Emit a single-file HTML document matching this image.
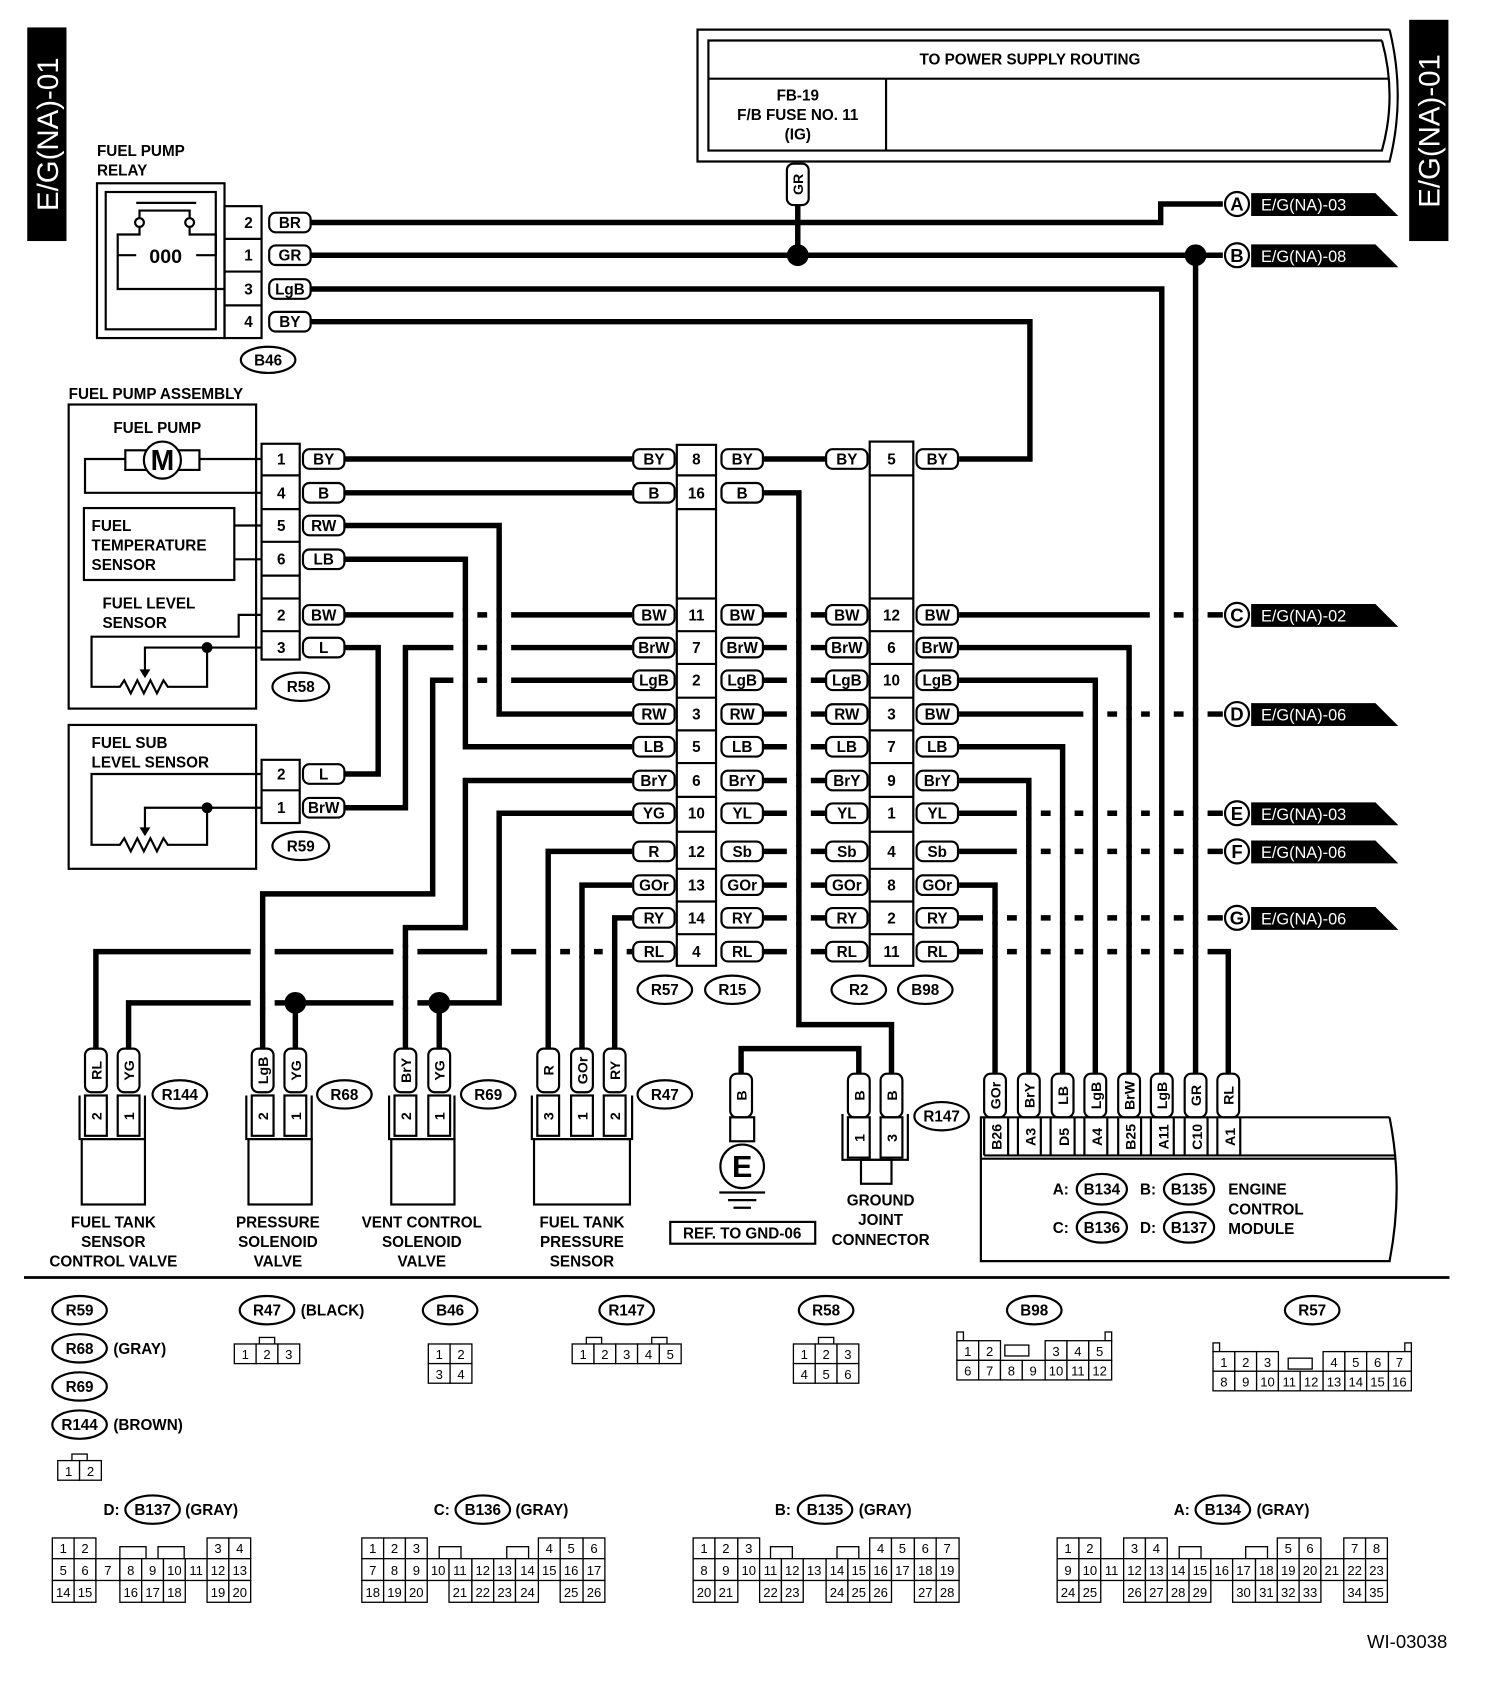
<!DOCTYPE html>
<html><head><meta charset="utf-8"><style>
html,body{margin:0;padding:0;background:#fff;width:1504px;height:1706px;overflow:hidden}
svg{display:block}
text{font-family:"Liberation Sans",sans-serif;font-weight:bold;fill:#000}
.w{stroke:#000;stroke-width:5;fill:none}
.t{stroke:#000;stroke-width:2;fill:none}
.p{stroke:#000;stroke-width:2;fill:#fff}
.c text{font-size:12px;font-weight:normal;text-anchor:middle}
.c rect{stroke:#000;stroke-width:1.2;fill:#fff}
.m{text-anchor:middle}
</style></head><body>
<svg width="1504" height="1706" viewBox="0 0 1380 1565" xmlns="http://www.w3.org/2000/svg">
<defs><g id="x"><rect x="-11" y="-4" width="22" height="8" fill="#fff"/><line x1="0" y1="-6" x2="0" y2="6" stroke="#000" stroke-width="5"/></g></defs>
<!-- side tabs -->
<rect x="25" y="25" width="36" height="196" fill="#000"/>
<text transform="translate(53,123) rotate(-90)" class="m" style="font-size:27px;font-weight:normal;fill:#fff">E/G(NA)-01</text>
<rect x="1293" y="18" width="36" height="203" fill="#000"/>
<text transform="translate(1321,120) rotate(-90)" class="m" style="font-size:27px;font-weight:normal;fill:#fff">E/G(NA)-01</text>

<!-- power supply box -->
<path class="t" d="M1275 27 H640 V148 H1275 Q1290 88 1275 27"/>
<path class="t" d="M1268 37 H650 V138 H1268 Q1282 88 1268 37"/>
<line class="t" x1="650" y1="72" x2="1275" y2="72"/>
<line class="t" x1="813" y1="72" x2="813" y2="138"/>
<text x="945" y="59" class="m" font-size="14">TO POWER SUPPLY ROUTING</text>
<text x="732" y="92" class="m" font-size="14">FB-19</text>
<text x="732" y="110" class="m" font-size="14">F/B FUSE NO. 11</text>
<text x="732" y="128" class="m" font-size="14">(IG)</text>

<!-- wires -->
<g class="w">
<path d="M732 188 V234"/>
<path d="M285 204 H1065 V187 H1122"/>
<path d="M285 234 H1122"/>
<path d="M1097 234 V985"/>
<path d="M285 265 H1066 V985"/>
<path d="M285 295 H945 V421 H880"/>
<path d="M316 421 H580 M700 421 H758"/>
<path d="M316 452 H580 M700 452 H733 V940 H818 V985"/>
<path d="M680 985 V962 H788 V985"/>
<path d="M316 482 H458 V655 H580"/>
<path d="M316 513 H427 V685 H580"/>
<path d="M316 564 H580 M700 564 H758 M880 564 H1122"/>
<path d="M316 594 H347 V710 H316"/>
<path d="M580 594 H372 V741 H316"/>
<path d="M580 624 H397 V820 H241 V962"/>
<path d="M580 716 H427 V851 H372 V962"/>
<path d="M580 746 H458 V920 H118 V962"/>
<path d="M271 920 V962 M403 920 V962"/>
<path d="M580 781 H503 V962"/>
<path d="M580 812 H534 V962"/>
<path d="M580 842 H564 V962"/>
<path d="M580 873 H88 V962"/>
<path d="M700 594 H758 M700 624 H758 M700 655 H758 M700 685 H758 M700 716 H758 M700 746 H758 M700 781 H758 M700 812 H758 M700 842 H758 M700 873 H758"/>
<path d="M880 594 H1036 V985"/>
<path d="M880 624 H1005 V985"/>
<path d="M880 655 H1122"/>
<path d="M880 685 H975 V985"/>
<path d="M880 716 H944 V985"/>
<path d="M880 746 H1122"/>
<path d="M880 781 H1122"/>
<path d="M880 812 H913 V985"/>
<path d="M880 842 H1122"/>
<path d="M880 873 H1127 V985"/>
</g>
<!-- crossings -->
<use href="#x" x="427" y="564"/><use href="#x" x="458" y="564"/><use href="#x" x="427" y="594"/><use href="#x" x="458" y="594"/><use href="#x" x="427" y="624"/><use href="#x" x="458" y="624"/>
<use href="#x" x="241" y="873"/><use href="#x" x="372" y="873"/><use href="#x" x="458" y="873"/><use href="#x" x="503" y="873"/><use href="#x" x="534" y="873"/><use href="#x" x="564" y="873"/>
<use href="#x" x="241" y="920"/><use href="#x" x="372" y="920"/>
<use href="#x" x="733" y="564"/><use href="#x" x="733" y="594"/><use href="#x" x="733" y="624"/><use href="#x" x="733" y="655"/><use href="#x" x="733" y="685"/><use href="#x" x="733" y="716"/><use href="#x" x="733" y="746"/><use href="#x" x="733" y="781"/><use href="#x" x="733" y="812"/><use href="#x" x="733" y="842"/><use href="#x" x="733" y="873"/>
<use href="#x" x="1066" y="564"/><use href="#x" x="1097" y="564"/>
<use href="#x" x="1005" y="655"/><use href="#x" x="1036" y="655"/><use href="#x" x="1066" y="655"/><use href="#x" x="1097" y="655"/>
<use href="#x" x="944" y="746"/><use href="#x" x="975" y="746"/><use href="#x" x="1005" y="746"/><use href="#x" x="1036" y="746"/><use href="#x" x="1066" y="746"/><use href="#x" x="1097" y="746"/>
<use href="#x" x="944" y="781"/><use href="#x" x="975" y="781"/><use href="#x" x="1005" y="781"/><use href="#x" x="1036" y="781"/><use href="#x" x="1066" y="781"/><use href="#x" x="1097" y="781"/>
<use href="#x" x="913" y="842"/><use href="#x" x="944" y="842"/><use href="#x" x="975" y="842"/><use href="#x" x="1005" y="842"/><use href="#x" x="1036" y="842"/><use href="#x" x="1066" y="842"/><use href="#x" x="1097" y="842"/>
<use href="#x" x="913" y="873"/><use href="#x" x="944" y="873"/><use href="#x" x="975" y="873"/><use href="#x" x="1005" y="873"/><use href="#x" x="1036" y="873"/><use href="#x" x="1066" y="873"/><use href="#x" x="1097" y="873"/>

<circle cx="732" cy="234" r="10"/><circle cx="1097" cy="234" r="10"/>
<circle cx="271" cy="920" r="10"/><circle cx="403" cy="920" r="10"/>

<!-- GR vertical pill -->
<rect x="722" y="150" width="20" height="38" rx="6" class="p"/>
<text transform="translate(737,169) rotate(-90)" class="m" font-size="13">GR</text>

<!-- right destination tags -->
<g font-size="15">
<g><circle cx="1135" cy="187" r="11" class="p"/><text x="1135" y="193" class="m" font-size="17">A</text><polygon points="1148,177 1262,177 1283,198 1148,198"/><text x="1157" y="193" style="fill:#fff;font-weight:normal">E/G(NA)-03</text></g>
<g><circle cx="1135" cy="234" r="11" class="p"/><text x="1135" y="240" class="m" font-size="17">B</text><polygon points="1148,224 1262,224 1283,245 1148,245"/><text x="1157" y="240" style="fill:#fff;font-weight:normal">E/G(NA)-08</text></g>
<g><circle cx="1135" cy="564" r="11" class="p"/><text x="1135" y="570" class="m" font-size="17">C</text><polygon points="1148,554 1262,554 1283,575 1148,575"/><text x="1157" y="570" style="fill:#fff;font-weight:normal">E/G(NA)-02</text></g>
<g><circle cx="1135" cy="655" r="11" class="p"/><text x="1135" y="661" class="m" font-size="17">D</text><polygon points="1148,645 1262,645 1283,666 1148,666"/><text x="1157" y="661" style="fill:#fff;font-weight:normal">E/G(NA)-06</text></g>
<g><circle cx="1135" cy="746" r="11" class="p"/><text x="1135" y="752" class="m" font-size="17">E</text><polygon points="1148,736 1262,736 1283,757 1148,757"/><text x="1157" y="752" style="fill:#fff;font-weight:normal">E/G(NA)-03</text></g>
<g><circle cx="1135" cy="781" r="11" class="p"/><text x="1135" y="787" class="m" font-size="17">F</text><polygon points="1148,771 1262,771 1283,792 1148,792"/><text x="1157" y="787" style="fill:#fff;font-weight:normal">E/G(NA)-06</text></g>
<g><circle cx="1135" cy="842" r="11" class="p"/><text x="1135" y="848" class="m" font-size="17">G</text><polygon points="1148,832 1262,832 1283,853 1148,853"/><text x="1157" y="848" style="fill:#fff;font-weight:normal">E/G(NA)-06</text></g>
</g>

<!-- fuel pump relay -->
<text x="89" y="143" font-size="14">FUEL PUMP</text><text x="89" y="161" font-size="14">RELAY</text>
<rect x="89" y="168" width="117" height="142" class="t"/>
<rect x="97" y="176" width="101" height="126" class="t" stroke-width="1.5"/>
<path class="t" d="M125 186 H180 M128 200 V193 H174 V200 M128 208 V215 H108 V265 H206 M174 208 V215 H198 M108 234 H125 M180 234 H198 M198 215 V234"/>
<circle cx="128" cy="204" r="4" class="p"/><circle cx="174" cy="204" r="4" class="p"/>
<text x="152" y="241" class="m" font-size="18" font-weight="normal">000</text>
<rect x="206" y="189" width="34" height="121" class="t"/>
<path class="t" d="M206 219 H240 M206 249 H240 M206 280 H240"/>
<g font-size="14" class="m"><text x="228" y="209">2</text><text x="228" y="239">1</text><text x="228" y="270">3</text><text x="228" y="300">4</text></g>
<g font-size="14">
<rect x="247" y="195" width="38" height="18" rx="6" class="p"/><text x="266" y="209" class="m">BR</text>
<rect x="247" y="225" width="38" height="18" rx="6" class="p"/><text x="266" y="239" class="m">GR</text>
<rect x="247" y="256" width="38" height="18" rx="6" class="p"/><text x="266" y="270" class="m">LgB</text>
<rect x="247" y="286" width="38" height="18" rx="6" class="p"/><text x="266" y="300" class="m">BY</text>
</g>
<ellipse cx="246" cy="330" rx="25" ry="12" class="p"/><text x="246" y="335" class="m" font-size="14">B46</text>

<!-- fuel pump assembly -->
<text x="63" y="366" font-size="14">FUEL PUMP ASSEMBLY</text>
<rect x="63" y="371" width="172" height="279" class="t"/>
<text x="104" y="397" font-size="14">FUEL PUMP</text>
<path class="t" d="M183 421 H240 M115 421 H78 V452 H240"/>
<rect x="115" y="413" width="68" height="18" class="p"/>
<circle cx="149" cy="422" r="17" class="p"/><text x="149" y="431" class="m" font-size="26">M</text>
<rect x="77" y="466" width="138" height="66" class="t"/>
<text x="84" y="487" font-size="14">FUEL</text><text x="84" y="505" font-size="14">TEMPERATURE</text><text x="84" y="523" font-size="14">SENSOR</text>
<path class="t" d="M215 482 H240 M215 513 H240"/>
<text x="94" y="558" font-size="14">FUEL LEVEL</text><text x="94" y="576" font-size="14">SENSOR</text>
<path class="t" d="M240 564 H219 V584 H84 V630 H110 l4 -6 l6 12 l6 -12 l6 12 l6 -12 l6 12 l6 -12 l4 6 H190 V594 H240 M190 594 H133 V620"/>
<path d="M128 614 L133 622 L138 614Z"/>
<circle cx="190" cy="594" r="5"/>
<rect x="240" y="407" width="35" height="198" class="t"/>
<path class="t" d="M240 436 H275 M240 467 H275 M240 497 H275 M240 528 H275 M240 549 H275 M240 579 H275"/>
<g font-size="14" class="m"><text x="258" y="426">1</text><text x="258" y="457">4</text><text x="258" y="487">5</text><text x="258" y="518">6</text><text x="258" y="569">2</text><text x="258" y="599">3</text></g>
<g font-size="14">
<rect x="278" y="412" width="38" height="18" rx="6" class="p"/><text x="297" y="426" class="m">BY</text>
<rect x="278" y="443" width="38" height="18" rx="6" class="p"/><text x="297" y="457" class="m">B</text>
<rect x="278" y="473" width="38" height="18" rx="6" class="p"/><text x="297" y="487" class="m">RW</text>
<rect x="278" y="504" width="38" height="18" rx="6" class="p"/><text x="297" y="518" class="m">LB</text>
<rect x="278" y="555" width="38" height="18" rx="6" class="p"/><text x="297" y="569" class="m">BW</text>
<rect x="278" y="585" width="38" height="18" rx="6" class="p"/><text x="297" y="599" class="m">L</text>
<rect x="278" y="701" width="38" height="18" rx="6" class="p"/><text x="297" y="715" class="m">L</text>
<rect x="278" y="732" width="38" height="18" rx="6" class="p"/><text x="297" y="746" class="m">BrW</text>
</g>
<ellipse cx="276" cy="630" rx="26" ry="13" class="p"/><text x="276" y="635" class="m" font-size="14">R58</text>

<!-- sub level sensor -->
<rect x="63" y="665" width="172" height="132" class="t"/>
<text x="84" y="686" font-size="14">FUEL SUB</text><text x="84" y="704" font-size="14">LEVEL SENSOR</text>
<path class="t" d="M240 710 H84 V775 H110 l4 -6 l6 12 l6 -12 l6 12 l6 -12 l6 12 l6 -12 l4 6 H190 V741 H240 M190 741 H133 V765"/>
<path d="M128 759 L133 767 L138 759Z"/>
<circle cx="190" cy="741" r="5"/>
<rect x="240" y="697" width="35" height="58" class="t"/>
<path class="t" d="M240 725 H275"/>
<g font-size="14" class="m"><text x="258" y="715">2</text><text x="258" y="746">1</text></g>
<ellipse cx="276" cy="776" rx="26" ry="13" class="p"/><text x="276" y="781" class="m" font-size="14">R59</text>

<!-- middle connectors -->
<rect x="621" y="408" width="36" height="478" class="t"/>
<rect x="798" y="405" width="40" height="481" class="t"/>
<path class="t" d="M621 436 H657 M621 467 H657 M621 549 H657 M621 579 H657 M621 609 H657 M621 640 H657 M621 670 H657 M621 700 H657 M621 731 H657 M621 763 H657 M621 797 H657 M621 827 H657 M621 857 H657"/>
<path class="t" d="M798 436 H838 M798 549 H838 M798 579 H838 M798 609 H838 M798 640 H838 M798 670 H838 M798 700 H838 M798 731 H838 M798 763 H838 M798 797 H838 M798 827 H838 M798 857 H838"/>
<g font-size="14" class="m">
<text x="639" y="426">8</text><text x="639" y="457">16</text><text x="639" y="569">11</text><text x="639" y="599">7</text><text x="639" y="629">2</text><text x="639" y="660">3</text><text x="639" y="690">5</text><text x="639" y="721">6</text><text x="639" y="751">10</text><text x="639" y="786">12</text><text x="639" y="817">13</text><text x="639" y="847">14</text><text x="639" y="878">4</text>
<text x="818" y="426">5</text><text x="818" y="569">12</text><text x="818" y="599">6</text><text x="818" y="629">10</text><text x="818" y="660">3</text><text x="818" y="690">7</text><text x="818" y="721">9</text><text x="818" y="751">1</text><text x="818" y="786">4</text><text x="818" y="817">8</text><text x="818" y="847">2</text><text x="818" y="878">11</text>
</g>
<g font-size="14" class="m">
<rect x="581" y="412" width="38" height="18" rx="6" class="p"/><text x="600" y="426">BY</text>
<rect x="581" y="443" width="38" height="18" rx="6" class="p"/><text x="600" y="457">B</text>
<rect x="581" y="555" width="38" height="18" rx="6" class="p"/><text x="600" y="569">BW</text>
<rect x="581" y="585" width="38" height="18" rx="6" class="p"/><text x="600" y="599">BrW</text>
<rect x="581" y="615" width="38" height="18" rx="6" class="p"/><text x="600" y="629">LgB</text>
<rect x="581" y="646" width="38" height="18" rx="6" class="p"/><text x="600" y="660">RW</text>
<rect x="581" y="676" width="38" height="18" rx="6" class="p"/><text x="600" y="690">LB</text>
<rect x="581" y="707" width="38" height="18" rx="6" class="p"/><text x="600" y="721">BrY</text>
<rect x="581" y="737" width="38" height="18" rx="6" class="p"/><text x="600" y="751">YG</text>
<rect x="581" y="772" width="38" height="18" rx="6" class="p"/><text x="600" y="786">R</text>
<rect x="581" y="803" width="38" height="18" rx="6" class="p"/><text x="600" y="817">GOr</text>
<rect x="581" y="833" width="38" height="18" rx="6" class="p"/><text x="600" y="847">RY</text>
<rect x="581" y="864" width="38" height="18" rx="6" class="p"/><text x="600" y="878">RL</text>

<rect x="662" y="412" width="38" height="18" rx="6" class="p"/><text x="681" y="426">BY</text>
<rect x="662" y="443" width="38" height="18" rx="6" class="p"/><text x="681" y="457">B</text>
<rect x="662" y="555" width="38" height="18" rx="6" class="p"/><text x="681" y="569">BW</text>
<rect x="662" y="585" width="38" height="18" rx="6" class="p"/><text x="681" y="599">BrW</text>
<rect x="662" y="615" width="38" height="18" rx="6" class="p"/><text x="681" y="629">LgB</text>
<rect x="662" y="646" width="38" height="18" rx="6" class="p"/><text x="681" y="660">RW</text>
<rect x="662" y="676" width="38" height="18" rx="6" class="p"/><text x="681" y="690">LB</text>
<rect x="662" y="707" width="38" height="18" rx="6" class="p"/><text x="681" y="721">BrY</text>
<rect x="662" y="737" width="38" height="18" rx="6" class="p"/><text x="681" y="751">YL</text>
<rect x="662" y="772" width="38" height="18" rx="6" class="p"/><text x="681" y="786">Sb</text>
<rect x="662" y="803" width="38" height="18" rx="6" class="p"/><text x="681" y="817">GOr</text>
<rect x="662" y="833" width="38" height="18" rx="6" class="p"/><text x="681" y="847">RY</text>
<rect x="662" y="864" width="38" height="18" rx="6" class="p"/><text x="681" y="878">RL</text>

<rect x="758" y="412" width="38" height="18" rx="6" class="p"/><text x="777" y="426">BY</text>
<rect x="758" y="555" width="38" height="18" rx="6" class="p"/><text x="777" y="569">BW</text>
<rect x="758" y="585" width="38" height="18" rx="6" class="p"/><text x="777" y="599">BrW</text>
<rect x="758" y="615" width="38" height="18" rx="6" class="p"/><text x="777" y="629">LgB</text>
<rect x="758" y="646" width="38" height="18" rx="6" class="p"/><text x="777" y="660">RW</text>
<rect x="758" y="676" width="38" height="18" rx="6" class="p"/><text x="777" y="690">LB</text>
<rect x="758" y="707" width="38" height="18" rx="6" class="p"/><text x="777" y="721">BrY</text>
<rect x="758" y="737" width="38" height="18" rx="6" class="p"/><text x="777" y="751">YL</text>
<rect x="758" y="772" width="38" height="18" rx="6" class="p"/><text x="777" y="786">Sb</text>
<rect x="758" y="803" width="38" height="18" rx="6" class="p"/><text x="777" y="817">GOr</text>
<rect x="758" y="833" width="38" height="18" rx="6" class="p"/><text x="777" y="847">RY</text>
<rect x="758" y="864" width="38" height="18" rx="6" class="p"/><text x="777" y="878">RL</text>

<rect x="841" y="412" width="38" height="18" rx="6" class="p"/><text x="860" y="426">BY</text>
<rect x="841" y="555" width="38" height="18" rx="6" class="p"/><text x="860" y="569">BW</text>
<rect x="841" y="585" width="38" height="18" rx="6" class="p"/><text x="860" y="599">BrW</text>
<rect x="841" y="615" width="38" height="18" rx="6" class="p"/><text x="860" y="629">LgB</text>
<rect x="841" y="646" width="38" height="18" rx="6" class="p"/><text x="860" y="660">BW</text>
<rect x="841" y="676" width="38" height="18" rx="6" class="p"/><text x="860" y="690">LB</text>
<rect x="841" y="707" width="38" height="18" rx="6" class="p"/><text x="860" y="721">BrY</text>
<rect x="841" y="737" width="38" height="18" rx="6" class="p"/><text x="860" y="751">YL</text>
<rect x="841" y="772" width="38" height="18" rx="6" class="p"/><text x="860" y="786">Sb</text>
<rect x="841" y="803" width="38" height="18" rx="6" class="p"/><text x="860" y="817">GOr</text>
<rect x="841" y="833" width="38" height="18" rx="6" class="p"/><text x="860" y="847">RY</text>
<rect x="841" y="864" width="38" height="18" rx="6" class="p"/><text x="860" y="878">RL</text>
</g>
<g font-size="14" class="m">
<ellipse cx="610" cy="908" rx="25" ry="13" class="p"/><text x="610" y="913">R57</text>
<ellipse cx="672" cy="908" rx="25" ry="13" class="p"/><text x="672" y="913">R15</text>
<ellipse cx="788" cy="908" rx="25" ry="13" class="p"/><text x="788" y="913">R2</text>
<ellipse cx="849" cy="908" rx="25" ry="13" class="p"/><text x="849" y="913">B98</text>
</g>

<!-- vertical pills at bottom -->
<g font-size="13" class="m">
<g><rect x="78" y="962" width="20" height="40" rx="6" class="p"/><text transform="translate(93,982) rotate(-90)">RL</text></g>
<g><rect x="108" y="962" width="20" height="40" rx="6" class="p"/><text transform="translate(123,982) rotate(-90)">YG</text></g>
<g><rect x="231" y="962" width="20" height="40" rx="6" class="p"/><text transform="translate(246,982) rotate(-90)">LgB</text></g>
<g><rect x="261" y="962" width="20" height="40" rx="6" class="p"/><text transform="translate(276,982) rotate(-90)">YG</text></g>
<g><rect x="362" y="962" width="20" height="40" rx="6" class="p"/><text transform="translate(377,982) rotate(-90)">BrY</text></g>
<g><rect x="393" y="962" width="20" height="40" rx="6" class="p"/><text transform="translate(408,982) rotate(-90)">YG</text></g>
<g><rect x="493" y="962" width="20" height="40" rx="6" class="p"/><text transform="translate(508,982) rotate(-90)">R</text></g>
<g><rect x="524" y="962" width="20" height="40" rx="6" class="p"/><text transform="translate(539,982) rotate(-90)">GOr</text></g>
<g><rect x="554" y="962" width="20" height="40" rx="6" class="p"/><text transform="translate(569,982) rotate(-90)">RY</text></g>
<g><rect x="670" y="985" width="20" height="40" rx="6" class="p"/><text transform="translate(685,1005) rotate(-90)">B</text></g>
<g><rect x="778" y="985" width="20" height="40" rx="6" class="p"/><text transform="translate(793,1005) rotate(-90)">B</text></g>
<g><rect x="808" y="985" width="20" height="40" rx="6" class="p"/><text transform="translate(823,1005) rotate(-90)">B</text></g>
<g><rect x="903" y="985" width="20" height="40" rx="6" class="p"/><text transform="translate(918,1005) rotate(-90)">GOr</text></g>
<g><rect x="934" y="985" width="20" height="40" rx="6" class="p"/><text transform="translate(949,1005) rotate(-90)">BrY</text></g>
<g><rect x="965" y="985" width="20" height="40" rx="6" class="p"/><text transform="translate(980,1005) rotate(-90)">LB</text></g>
<g><rect x="995" y="985" width="20" height="40" rx="6" class="p"/><text transform="translate(1010,1005) rotate(-90)">LgB</text></g>
<g><rect x="1026" y="985" width="20" height="40" rx="6" class="p"/><text transform="translate(1041,1005) rotate(-90)">BrW</text></g>
<g><rect x="1056" y="985" width="20" height="40" rx="6" class="p"/><text transform="translate(1071,1005) rotate(-90)">LgB</text></g>
<g><rect x="1087" y="985" width="20" height="40" rx="6" class="p"/><text transform="translate(1102,1005) rotate(-90)">GR</text></g>
<g><rect x="1117" y="985" width="20" height="40" rx="6" class="p"/><text transform="translate(1132,1005) rotate(-90)">RL</text></g>
</g>

<!-- bottom component bodies -->
<g class="t">
<path d="M73 1005 V1045 H133 V1005"/><rect x="78" y="1005" width="20" height="37"/><rect x="108" y="1005" width="20" height="37"/><rect x="75" y="1045" width="58" height="60"/>
<path d="M226 1005 V1045 H286 V1005"/><rect x="231" y="1005" width="20" height="37"/><rect x="261" y="1005" width="20" height="37"/><rect x="228" y="1045" width="58" height="60"/>
<path d="M357 1005 V1045 H417 V1005"/><rect x="362" y="1005" width="20" height="37"/><rect x="393" y="1005" width="20" height="37"/><rect x="359" y="1045" width="58" height="60"/>
<path d="M488 1005 V1045 H580 V1005"/><rect x="493" y="1005" width="20" height="37"/><rect x="524" y="1005" width="20" height="37"/><rect x="554" y="1005" width="20" height="37"/><rect x="490" y="1045" width="88" height="60"/>
</g>
<g font-size="13" class="m">
<text transform="translate(93,1024) rotate(-90)">2</text><text transform="translate(123,1024) rotate(-90)">1</text>
<text transform="translate(246,1024) rotate(-90)">2</text><text transform="translate(276,1024) rotate(-90)">1</text>
<text transform="translate(377,1024) rotate(-90)">2</text><text transform="translate(408,1024) rotate(-90)">1</text>
<text transform="translate(508,1024) rotate(-90)">3</text><text transform="translate(539,1024) rotate(-90)">1</text><text transform="translate(569,1024) rotate(-90)">2</text>
</g>
<g font-size="14" class="m">
<ellipse cx="165" cy="1004" rx="25" ry="13" class="p"/><text x="165" y="1009">R144</text>
<ellipse cx="316" cy="1004" rx="25" ry="13" class="p"/><text x="316" y="1009">R68</text>
<ellipse cx="448" cy="1004" rx="25" ry="13" class="p"/><text x="448" y="1009">R69</text>
<ellipse cx="610" cy="1004" rx="25" ry="13" class="p"/><text x="610" y="1009">R47</text>
<ellipse cx="864" cy="1024" rx="25" ry="13" class="p"/><text x="864" y="1029">R147</text>
<text x="104" y="1126">FUEL TANK</text><text x="104" y="1144">SENSOR</text><text x="104" y="1162">CONTROL VALVE</text>
<text x="255" y="1126">PRESSURE</text><text x="255" y="1144">SOLENOID</text><text x="255" y="1162">VALVE</text>
<text x="387" y="1126">VENT CONTROL</text><text x="387" y="1144">SOLENOID</text><text x="387" y="1162">VALVE</text>
<text x="534" y="1126">FUEL TANK</text><text x="534" y="1144">PRESSURE</text><text x="534" y="1162">SENSOR</text>
<text x="808" y="1106">GROUND</text><text x="808" y="1124">JOINT</text><text x="808" y="1142">CONNECTOR</text>
</g>
<!-- ground E -->
<rect x="670" y="1025" width="22" height="22" class="t"/>
<circle cx="681" cy="1070" r="20" class="p"/><text x="681" y="1080" class="m" font-size="28">E</text>
<path class="t" d="M660 1094 H702 M668 1101 H694 M673 1108 H689"/>
<rect x="615" y="1121" width="133" height="20" class="t"/><text x="681" y="1136" class="m" font-size="14">REF. TO GND-06</text>
<!-- R147 -->
<path class="t" d="M773 1022 V1064 H833 V1022"/><rect x="778" y="1025" width="20" height="37" class="t"/><rect x="808" y="1025" width="20" height="37" class="t"/><rect x="790" y="1064" width="28" height="22" class="t"/>
<text transform="translate(793,1044) rotate(-90)" class="m" font-size="13">1</text><text transform="translate(823,1044) rotate(-90)" class="m" font-size="13">3</text>

<!-- ECM -->
<path class="t" d="M1275 1025 H900 V1157 H1275 Q1288 1090 1275 1025"/>
<path class="t" d="M903 1060 H1280 M900 1063 H1280"/>
<path class="t" d="M903 1025 V1060 M925 1025 V1060 M934 1025 V1060 M955 1025 V1060 M964 1025 V1060 M986 1025 V1060 M995 1025 V1060 M1016 1025 V1060 M1026 1025 V1060 M1047 1025 V1060 M1056 1025 V1060 M1077 1025 V1060 M1087 1025 V1060 M1108 1025 V1060 M1117 1025 V1060 M1138 1025 V1060"/>
<g font-size="13" class="m">
<text transform="translate(919,1043) rotate(-90)">B26</text><text transform="translate(950,1043) rotate(-90)">A3</text><text transform="translate(981,1043) rotate(-90)">D5</text><text transform="translate(1011,1043) rotate(-90)">A4</text><text transform="translate(1042,1043) rotate(-90)">B25</text><text transform="translate(1072,1043) rotate(-90)">A11</text><text transform="translate(1103,1043) rotate(-90)">C10</text><text transform="translate(1133,1043) rotate(-90)">A1</text>
</g>
<g font-size="14">
<text x="966" y="1096">A:</text><ellipse cx="1011" cy="1091" rx="23" ry="14" class="p"/><text x="1011" y="1096" class="m">B134</text>
<text x="1046" y="1096">B:</text><ellipse cx="1091" cy="1091" rx="23" ry="14" class="p"/><text x="1091" y="1096" class="m">B135</text>
<text x="966" y="1131">C:</text><ellipse cx="1011" cy="1126" rx="23" ry="14" class="p"/><text x="1011" y="1131" class="m">B136</text>
<text x="1046" y="1131">D:</text><ellipse cx="1091" cy="1126" rx="23" ry="14" class="p"/><text x="1091" y="1131" class="m">B137</text>
<text x="1127" y="1096">ENGINE</text><text x="1127" y="1114">CONTROL</text><text x="1127" y="1132">MODULE</text>
</g>

<line x1="22" y1="1172" x2="1330" y2="1172" stroke="#000" stroke-width="2.5"/>

<!-- connector legend -->
<g font-size="14">
<ellipse cx="73" cy="1202" rx="25" ry="13" class="p"/><text x="73" y="1207" class="m">R59</text>
<ellipse cx="73" cy="1237" rx="25" ry="13" class="p"/><text x="73" y="1242" class="m">R68</text><text x="104" y="1242">(GRAY)</text>
<ellipse cx="73" cy="1272" rx="25" ry="13" class="p"/><text x="73" y="1277" class="m">R69</text>
<ellipse cx="73" cy="1307" rx="25" ry="13" class="p"/><text x="73" y="1312" class="m">R144</text><text x="104" y="1312">(BROWN)</text>
<ellipse cx="245" cy="1202" rx="25" ry="13" class="p"/><text x="245" y="1207" class="m">R47</text><text x="276" y="1207">(BLACK)</text>
<ellipse cx="413" cy="1202" rx="25" ry="13" class="p"/><text x="413" y="1207" class="m">B46</text>
<ellipse cx="575" cy="1202" rx="25" ry="13" class="p"/><text x="575" y="1207" class="m">R147</text>
<ellipse cx="758" cy="1202" rx="25" ry="13" class="p"/><text x="758" y="1207" class="m">R58</text>
<ellipse cx="949" cy="1202" rx="25" ry="13" class="p"/><text x="949" y="1207" class="m">B98</text>
<ellipse cx="1204" cy="1202" rx="25" ry="13" class="p"/><text x="1204" y="1207" class="m">R57</text>
<text x="95" y="1390">D:</text><ellipse cx="140" cy="1385" rx="25" ry="13" class="p"/><text x="140" y="1390" class="m">B137</text><text x="170" y="1390">(GRAY)</text>
<text x="398" y="1390">C:</text><ellipse cx="443" cy="1385" rx="25" ry="13" class="p"/><text x="443" y="1390" class="m">B136</text><text x="473" y="1390">(GRAY)</text>
<text x="711" y="1390">B:</text><ellipse cx="757" cy="1385" rx="25" ry="13" class="p"/><text x="757" y="1390" class="m">B135</text><text x="788" y="1390">(GRAY)</text>
<text x="1077" y="1390">A:</text><ellipse cx="1122" cy="1385" rx="25" ry="13" class="p"/><text x="1122" y="1390" class="m">B134</text><text x="1153" y="1390">(GRAY)</text>
</g>
<text x="1328" y="1512" font-size="17" style="text-anchor:end;font-weight:normal">WI-03038</text>

<g class="c">
<rect x="66" y="1334" width="14" height="7"/>
<rect x="53" y="1340" width="20" height="18"/><text x="63" y="1354">1</text><rect x="73" y="1340" width="20" height="18"/><text x="83" y="1354">2</text>
<rect x="238" y="1227" width="14" height="7"/>
<rect x="215" y="1233" width="20" height="18"/><text x="225" y="1247">1</text><rect x="235" y="1233" width="20" height="18"/><text x="245" y="1247">2</text><rect x="255" y="1233" width="20" height="18"/><text x="265" y="1247">3</text>
<rect x="393" y="1233" width="20" height="18"/><text x="403" y="1247">1</text><rect x="413" y="1233" width="20" height="18"/><text x="423" y="1247">2</text>
<rect x="393" y="1251" width="20" height="18"/><text x="403" y="1265">3</text><rect x="413" y="1251" width="20" height="18"/><text x="423" y="1265">4</text>
<rect x="538" y="1227" width="14" height="7"/><rect x="598" y="1227" width="14" height="7"/>
<rect x="525" y="1233" width="20" height="18"/><text x="535" y="1247">1</text><rect x="545" y="1233" width="20" height="18"/><text x="555" y="1247">2</text><rect x="565" y="1233" width="20" height="18"/><text x="575" y="1247">3</text><rect x="585" y="1233" width="20" height="18"/><text x="595" y="1247">4</text><rect x="605" y="1233" width="20" height="18"/><text x="615" y="1247">5</text>
<rect x="751" y="1227" width="14" height="7"/>
<rect x="728" y="1233" width="20" height="18"/><text x="738" y="1247">1</text><rect x="748" y="1233" width="20" height="18"/><text x="758" y="1247">2</text><rect x="768" y="1233" width="20" height="18"/><text x="778" y="1247">3</text>
<rect x="728" y="1251" width="20" height="18"/><text x="738" y="1265">4</text><rect x="748" y="1251" width="20" height="18"/><text x="758" y="1265">5</text><rect x="768" y="1251" width="20" height="18"/><text x="778" y="1265">6</text>
<rect x="878" y="1222" width="6" height="8"/><rect x="1014" y="1222" width="6" height="8"/><rect x="922" y="1234" width="22" height="10"/>
<rect x="878" y="1230" width="20" height="18"/><text x="888" y="1244">1</text><rect x="898" y="1230" width="20" height="18"/><text x="908" y="1244">2</text>
<rect x="959" y="1230" width="20" height="18"/><text x="969" y="1244">3</text><rect x="979" y="1230" width="20" height="18"/><text x="989" y="1244">4</text><rect x="999" y="1230" width="21" height="18"/><text x="1009" y="1244">5</text>
<rect x="878" y="1248" width="20" height="18"/><text x="888" y="1262">6</text><rect x="898" y="1248" width="20" height="18"/><text x="908" y="1262">7</text><rect x="918" y="1248" width="20" height="18"/><text x="928" y="1262">8</text><rect x="938" y="1248" width="21" height="18"/><text x="948" y="1262">9</text><rect x="959" y="1248" width="20" height="18"/><text x="969" y="1262">10</text><rect x="979" y="1248" width="20" height="18"/><text x="989" y="1262">11</text><rect x="999" y="1248" width="21" height="18"/><text x="1009" y="1262">12</text>
<rect x="1113" y="1232" width="6" height="8"/><rect x="1289" y="1232" width="6" height="8"/><rect x="1182" y="1246" width="22" height="10"/>
<rect x="1113" y="1240" width="20" height="18"/><text x="1123" y="1254">1</text><rect x="1133" y="1240" width="20" height="18"/><text x="1143" y="1254">2</text><rect x="1153" y="1240" width="20" height="18"/><text x="1163" y="1254">3</text>
<rect x="1214" y="1240" width="20" height="18"/><text x="1224" y="1254">4</text><rect x="1234" y="1240" width="20" height="18"/><text x="1244" y="1254">5</text><rect x="1254" y="1240" width="20" height="18"/><text x="1264" y="1254">6</text><rect x="1274" y="1240" width="21" height="18"/><text x="1284" y="1254">7</text>
<rect x="1113" y="1258" width="20" height="18"/><text x="1123" y="1272">8</text><rect x="1133" y="1258" width="20" height="18"/><text x="1143" y="1272">9</text><rect x="1153" y="1258" width="20" height="18"/><text x="1163" y="1272">10</text><rect x="1173" y="1258" width="20" height="18"/><text x="1183" y="1272">11</text><rect x="1193" y="1258" width="21" height="18"/><text x="1203" y="1272">12</text><rect x="1214" y="1258" width="20" height="18"/><text x="1224" y="1272">13</text><rect x="1234" y="1258" width="20" height="18"/><text x="1244" y="1272">14</text><rect x="1254" y="1258" width="20" height="18"/><text x="1264" y="1272">15</text><rect x="1274" y="1258" width="21" height="18"/><text x="1284" y="1272">16</text>

<rect x="110" y="1419" width="24" height="11"/><rect x="145" y="1419" width="24" height="11"/>
<rect x="48" y="1411" width="20" height="19"/><text x="58" y="1425">1</text><rect x="68" y="1411" width="20" height="19"/><text x="78" y="1425">2</text>
<rect x="190" y="1411" width="20" height="19"/><text x="200" y="1425">3</text><rect x="210" y="1411" width="20" height="19"/><text x="220" y="1425">4</text>
<rect x="48" y="1430" width="20" height="20"/><text x="58" y="1445">5</text><rect x="68" y="1430" width="20" height="20"/><text x="78" y="1445">6</text><rect x="88" y="1430" width="22" height="20"/><text x="99" y="1445">7</text><rect x="110" y="1430" width="20" height="20"/><text x="120" y="1445">8</text><rect x="130" y="1430" width="20" height="20"/><text x="140" y="1445">9</text><rect x="150" y="1430" width="20" height="20"/><text x="160" y="1445">10</text><rect x="170" y="1430" width="20" height="20"/><text x="180" y="1445">11</text><rect x="190" y="1430" width="20" height="20"/><text x="200" y="1445">12</text><rect x="210" y="1430" width="20" height="20"/><text x="220" y="1445">13</text>
<rect x="48" y="1450" width="20" height="20"/><text x="58" y="1465">14</text><rect x="68" y="1450" width="20" height="20"/><text x="78" y="1465">15</text>
<rect x="110" y="1450" width="20" height="20"/><text x="120" y="1465">16</text><rect x="130" y="1450" width="20" height="20"/><text x="140" y="1465">17</text><rect x="150" y="1450" width="20" height="20"/><text x="160" y="1465">18</text>
<rect x="190" y="1450" width="20" height="20"/><text x="200" y="1465">19</text><rect x="210" y="1450" width="20" height="20"/><text x="220" y="1465">20</text>

<rect x="403" y="1419" width="20" height="11"/><rect x="465" y="1419" width="20" height="11"/>
<rect x="332" y="1411" width="20" height="19"/><text x="342" y="1425">1</text><rect x="352" y="1411" width="20" height="19"/><text x="362" y="1425">2</text><rect x="372" y="1411" width="20" height="19"/><text x="382" y="1425">3</text>
<rect x="494" y="1411" width="20" height="19"/><text x="504" y="1425">4</text><rect x="514" y="1411" width="21" height="19"/><text x="524" y="1425">5</text><rect x="535" y="1411" width="20" height="19"/><text x="545" y="1425">6</text>
<rect x="332" y="1430" width="20" height="20"/><text x="342" y="1445">7</text><rect x="352" y="1430" width="20" height="20"/><text x="362" y="1445">8</text><rect x="372" y="1430" width="20" height="20"/><text x="382" y="1445">9</text><rect x="392" y="1430" width="20" height="20"/><text x="402" y="1445">10</text><rect x="412" y="1430" width="21" height="20"/><text x="422" y="1445">11</text><rect x="433" y="1430" width="20" height="20"/><text x="443" y="1445">12</text><rect x="453" y="1430" width="20" height="20"/><text x="463" y="1445">13</text><rect x="473" y="1430" width="21" height="20"/><text x="484" y="1445">14</text><rect x="494" y="1430" width="20" height="20"/><text x="504" y="1445">15</text><rect x="514" y="1430" width="21" height="20"/><text x="524" y="1445">16</text><rect x="535" y="1430" width="20" height="20"/><text x="545" y="1445">17</text>
<rect x="332" y="1450" width="20" height="20"/><text x="342" y="1465">18</text><rect x="352" y="1450" width="20" height="20"/><text x="362" y="1465">19</text><rect x="372" y="1450" width="20" height="20"/><text x="382" y="1465">20</text>
<rect x="412" y="1450" width="21" height="20"/><text x="422" y="1465">21</text><rect x="433" y="1450" width="20" height="20"/><text x="443" y="1465">22</text><rect x="453" y="1450" width="20" height="20"/><text x="463" y="1465">23</text><rect x="473" y="1450" width="21" height="20"/><text x="484" y="1465">24</text>
<rect x="514" y="1450" width="21" height="20"/><text x="524" y="1465">25</text><rect x="535" y="1450" width="20" height="20"/><text x="545" y="1465">26</text>

<rect x="707" y="1419" width="20" height="11"/><rect x="768" y="1419" width="20" height="11"/>
<rect x="636" y="1411" width="20" height="19"/><text x="646" y="1425">1</text><rect x="656" y="1411" width="21" height="19"/><text x="666" y="1425">2</text><rect x="677" y="1411" width="20" height="19"/><text x="687" y="1425">3</text>
<rect x="798" y="1411" width="20" height="19"/><text x="808" y="1425">4</text><rect x="818" y="1411" width="21" height="19"/><text x="828" y="1425">5</text><rect x="839" y="1411" width="20" height="19"/><text x="849" y="1425">6</text><rect x="859" y="1411" width="21" height="19"/><text x="869" y="1425">7</text>
<rect x="636" y="1430" width="20" height="20"/><text x="646" y="1445">8</text><rect x="656" y="1430" width="21" height="20"/><text x="666" y="1445">9</text><rect x="677" y="1430" width="20" height="20"/><text x="687" y="1445">10</text><rect x="697" y="1430" width="20" height="20"/><text x="707" y="1445">11</text><rect x="717" y="1430" width="20" height="20"/><text x="727" y="1445">12</text><rect x="737" y="1430" width="21" height="20"/><text x="747" y="1445">13</text><rect x="758" y="1430" width="20" height="20"/><text x="768" y="1445">14</text><rect x="778" y="1430" width="20" height="20"/><text x="788" y="1445">15</text><rect x="798" y="1430" width="20" height="20"/><text x="808" y="1445">16</text><rect x="818" y="1430" width="21" height="20"/><text x="828" y="1445">17</text><rect x="839" y="1430" width="20" height="20"/><text x="849" y="1445">18</text><rect x="859" y="1430" width="21" height="20"/><text x="869" y="1445">19</text>
<rect x="636" y="1450" width="20" height="20"/><text x="646" y="1465">20</text><rect x="656" y="1450" width="21" height="20"/><text x="666" y="1465">21</text>
<rect x="697" y="1450" width="20" height="20"/><text x="707" y="1465">22</text><rect x="717" y="1450" width="20" height="20"/><text x="727" y="1465">23</text>
<rect x="758" y="1450" width="20" height="20"/><text x="768" y="1465">24</text><rect x="778" y="1450" width="20" height="20"/><text x="788" y="1465">25</text><rect x="798" y="1450" width="20" height="20"/><text x="808" y="1465">26</text>
<rect x="839" y="1450" width="20" height="20"/><text x="849" y="1465">27</text><rect x="859" y="1450" width="21" height="20"/><text x="869" y="1465">28</text>

<rect x="1082" y="1419" width="20" height="11"/><rect x="1143" y="1419" width="20" height="11"/>
<rect x="970" y="1411" width="20" height="19"/><text x="980" y="1425">1</text><rect x="990" y="1411" width="20" height="19"/><text x="1000" y="1425">2</text>
<rect x="1031" y="1411" width="20" height="19"/><text x="1041" y="1425">3</text><rect x="1051" y="1411" width="20" height="19"/><text x="1061" y="1425">4</text>
<rect x="1172" y="1411" width="20" height="19"/><text x="1182" y="1425">5</text><rect x="1192" y="1411" width="20" height="19"/><text x="1202" y="1425">6</text>
<rect x="1233" y="1411" width="20" height="19"/><text x="1243" y="1425">7</text><rect x="1253" y="1411" width="20" height="19"/><text x="1263" y="1425">8</text>
<rect x="970" y="1430" width="20" height="20"/><text x="980" y="1445">9</text><rect x="990" y="1430" width="20" height="20"/><text x="1000" y="1445">10</text><rect x="1010" y="1430" width="21" height="20"/><text x="1020" y="1445">11</text><rect x="1031" y="1430" width="20" height="20"/><text x="1041" y="1445">12</text><rect x="1051" y="1430" width="20" height="20"/><text x="1061" y="1445">13</text><rect x="1071" y="1430" width="20" height="20"/><text x="1081" y="1445">14</text><rect x="1091" y="1430" width="20" height="20"/><text x="1101" y="1445">15</text><rect x="1111" y="1430" width="20" height="20"/><text x="1121" y="1445">16</text><rect x="1131" y="1430" width="21" height="20"/><text x="1141" y="1445">17</text><rect x="1152" y="1430" width="20" height="20"/><text x="1162" y="1445">18</text><rect x="1172" y="1430" width="20" height="20"/><text x="1182" y="1445">19</text><rect x="1192" y="1430" width="20" height="20"/><text x="1202" y="1445">20</text><rect x="1212" y="1430" width="21" height="20"/><text x="1222" y="1445">21</text><rect x="1233" y="1430" width="20" height="20"/><text x="1243" y="1445">22</text><rect x="1253" y="1430" width="20" height="20"/><text x="1263" y="1445">23</text>
<rect x="970" y="1450" width="20" height="20"/><text x="980" y="1465">24</text><rect x="990" y="1450" width="20" height="20"/><text x="1000" y="1465">25</text>
<rect x="1031" y="1450" width="20" height="20"/><text x="1041" y="1465">26</text><rect x="1051" y="1450" width="20" height="20"/><text x="1061" y="1465">27</text><rect x="1071" y="1450" width="20" height="20"/><text x="1081" y="1465">28</text><rect x="1091" y="1450" width="20" height="20"/><text x="1101" y="1465">29</text>
<rect x="1131" y="1450" width="21" height="20"/><text x="1141" y="1465">30</text><rect x="1152" y="1450" width="20" height="20"/><text x="1162" y="1465">31</text><rect x="1172" y="1450" width="20" height="20"/><text x="1182" y="1465">32</text><rect x="1192" y="1450" width="20" height="20"/><text x="1202" y="1465">33</text>
<rect x="1233" y="1450" width="20" height="20"/><text x="1243" y="1465">34</text><rect x="1253" y="1450" width="20" height="20"/><text x="1263" y="1465">35</text>
</g>
</svg>
</body></html>
